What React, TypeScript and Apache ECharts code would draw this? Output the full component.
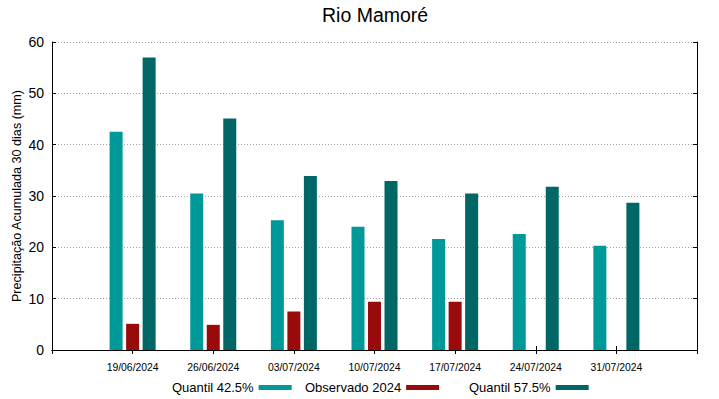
import React, { useEffect, useRef } from "react";
import * as echarts from "echarts";

const dates = ["19/06/2024", "26/06/2024", "03/07/2024", "10/07/2024", "17/07/2024", "24/07/2024", "31/07/2024"];
const q425 = [42.5, 30.5, 25.3, 24.0, 21.6, 22.6, 20.3];
const observado = [5.1, 4.9, 7.5, 9.4, 9.4, null, null];
const q575 = [57.0, 45.1, 33.9, 32.9, 30.5, 31.8, 28.7];
const yTicks = [0, 10, 20, 30, 40, 50, 60];

const FONT = "'Liberation Sans', Arial, sans-serif";

export default function App() {
  const ref = useRef<HTMLDivElement>(null);
  useEffect(() => {
    if (!ref.current) return;
    const chart = echarts.init(ref.current, undefined, { renderer: "svg" });
    const cats = ["", ...dates, ""];
    const pad = (a: (number | null)[]) => [null, ...a, null];
    const legendBase = {
      top: 381,
      align: "right" as const,
      itemWidth: 33,
      itemHeight: 5,
      icon: "rect",
      selectedMode: false,
      padding: 0,
      textStyle: { fontFamily: FONT, fontSize: 13, color: "#000" },
    };
    chart.setOption({
      animation: false,
      backgroundColor: "#fff",
      title: {
        text: "Rio Mamoré",
        left: 317,
        top: 0,
        textStyle: { fontFamily: FONT, fontSize: 19.5, fontWeight: "normal", color: "#000" },
      },
      legend: [
        { ...legendBase, left: 172, data: ["Quantil 42.5%"] },
        { ...legendBase, left: 305, data: ["Observado 2024"] },
        { ...legendBase, left: 469, data: ["Quantil 57.5%"] },
      ],
      grid: { left: 52, right: 22, top: 42, bottom: 49, containLabel: false, outerBoundsMode: "none" },
      xAxis: [
        {
          type: "category",
          data: cats,
          boundaryGap: false,
          axisLine: { lineStyle: { color: "#000", width: 1 } },
          axisTick: { inside: true, length: 4, lineStyle: { color: "#000" } },
          axisLabel: { fontFamily: FONT, fontSize: 10.4, color: "#000", margin: 12, interval: 0 },
          splitLine: { show: false },
        },
        {
          type: "category",
          data: cats,
          boundaryGap: false,
          position: "top",
          axisLine: { lineStyle: { color: "#000", width: 1 } },
          axisTick: { inside: true, length: 4, lineStyle: { color: "#000" } },
          axisLabel: { show: false },
        },
      ],
      yAxis: [
        {
          type: "value",
          min: 0,
          max: 60,
          interval: 10,
          name: "Precipitação Acumulada 30 dias (mm)",
          nameLocation: "middle",
          nameGap: 29,
          nameMoveOverlap: false,
          nameTextStyle: { fontFamily: FONT, fontSize: 12.6, color: "#000" },
          axisLine: { show: true, lineStyle: { color: "#000" } },
          axisTick: { show: true, inside: true, length: 4, lineStyle: { color: "#000" } },
          axisLabel: {
            fontFamily: FONT,
            fontSize: 14,
            color: "#000",
            margin: 8,
            formatter: (v: number) => (yTicks.includes(v) ? String(v) : ""),
          },
          splitLine: { show: true, lineStyle: { color: "#a0a0a0", type: [1, 2], width: 1 } },
        },
        {
          type: "value",
          min: 0,
          max: 60,
          interval: 10,
          position: "right",
          axisLine: { show: true, lineStyle: { color: "#000" } },
          axisTick: { show: true, inside: true, length: 4, lineStyle: { color: "#000" } },
          axisLabel: { show: false },
          splitLine: { show: false },
        },
      ],
      series: [
        {
          name: "Quantil 42.5%",
          type: "bar",
          data: pad(q425),
          barWidth: 13,
          barGap: "27%",
          itemStyle: { color: "#009999" },
        },
        {
          name: "Observado 2024",
          type: "bar",
          data: pad(observado),
          barWidth: 13,
          barGap: "27%",
          itemStyle: { color: "#990a0a" },
        },
        {
          name: "Quantil 57.5%",
          type: "bar",
          data: pad(q575),
          barWidth: 13,
          barGap: "27%",
          itemStyle: { color: "#006666" },
        },
      ],
    });
    return () => chart.dispose();
  }, []);
  return <div ref={ref} style={{ width: 719, height: 399, position: "absolute", left: 0, top: 0 }} />;
}
